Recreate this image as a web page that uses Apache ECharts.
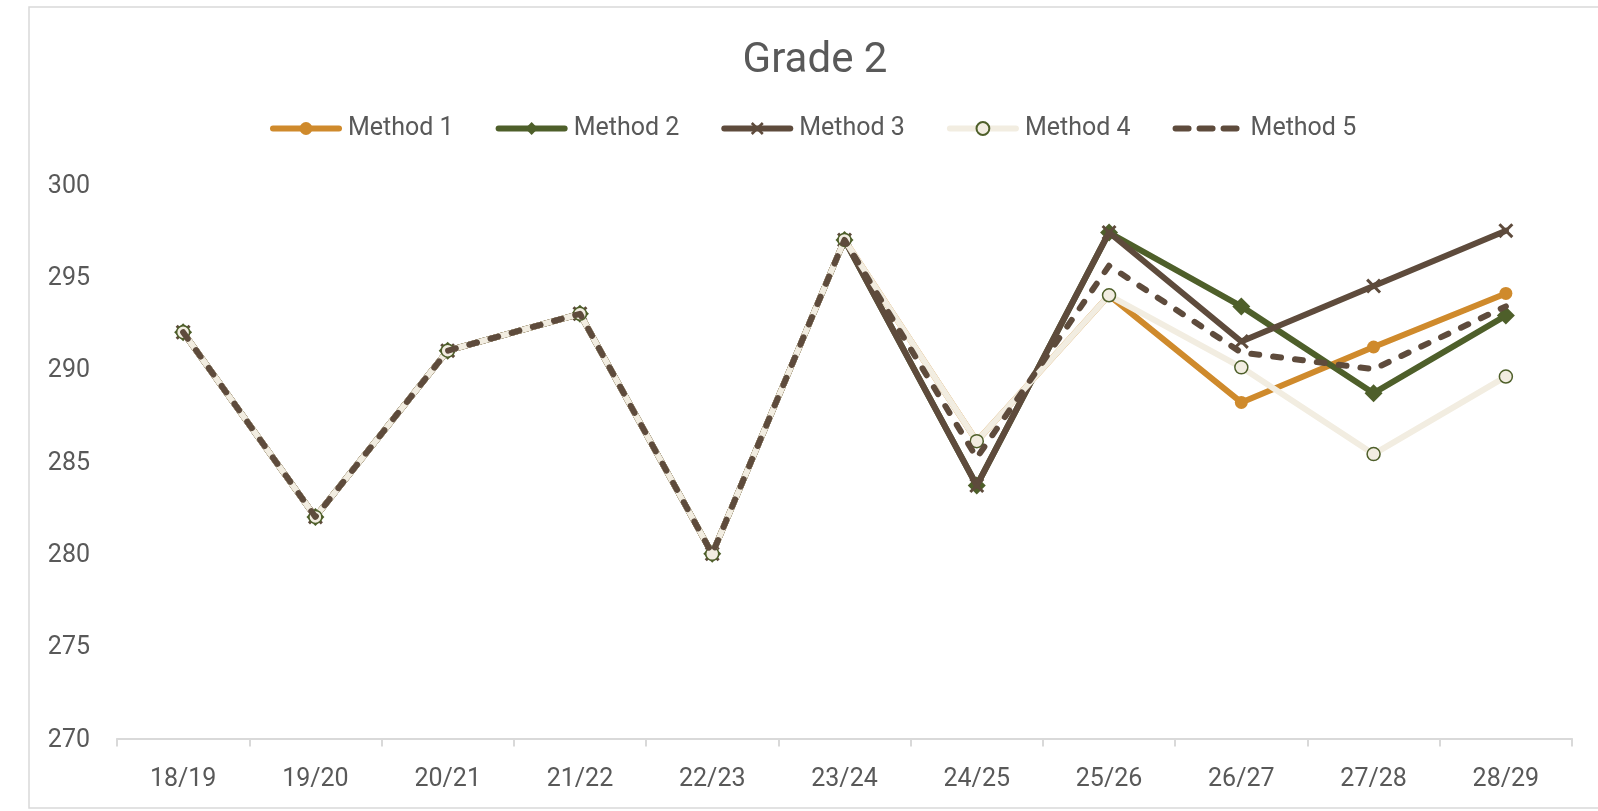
<!DOCTYPE html>
<html>
<head>
<meta charset="utf-8">
<script src="https://cdn.jsdelivr.net/npm/echarts@6/dist/echarts.min.js"></script>
<style>
html,body{margin:0;padding:0;background:#fff;}
#chart{width:1598px;height:811px;}
</style>
</head>
<body>
<div id="chart"></div>
<script>
const categories = ['18/19','19/20','20/21','21/22','22/23','23/24','24/25','25/26','26/27','27/28','28/29'];
const method1 = [292, 282, 291, 293, 280, 297, 286.1, 294.0, 288.2, 291.2, 294.1];
const method2 = [292, 282, 291, 293, 280, 297, 283.7, 297.4, 293.4, 288.7, 292.9];
const method3 = [292, 282, 291, 293, 280, 297, 283.7, 297.4, 291.5, 294.5, 297.5];
const method4 = [292, 282, 291, 293, 280, 297, 286.1, 294.0, 290.1, 285.4, 289.6];
const method5 = [292, 282, 291, 293, 280, 297, 285.2, 295.6, 290.9, 290.0, 293.4];
const seriesNames = ['Method 1','Method 2','Method 3','Method 4','Method 5'];
const yMin = 270, yMax = 300, yStep = 5;

const FONT = 'Roboto';
const TXT = '#595959';
const ORANGE = '#CF8A2C';
const GREEN = '#4E5F2A';
const BROWN = '#5E4B3C';
const BEIGE = '#F2EDE1';
const XPATH = 'path://M0,1.4 L1.4,0 L10,8.6 L8.6,10 Z M8.6,0 L10,1.4 L1.4,10 L0,8.6 Z';

const chart = echarts.init(document.getElementById('chart'), null, {renderer:'canvas'});
chart.setOption({
  animation: false,
  backgroundColor: '#fff',
  graphic: [{
    type: 'rect',
    shape: {x: 29, y: 7, width: 1620, height: 801},
    style: {fill: 'none', stroke: '#D9D9D9', lineWidth: 1.5},
    silent: true, z: 0
  }],
  title: {
    text: 'Grade 2',
    left: 815, top: 40, padding: 0,
    textAlign: 'center',
    textStyle: {fontFamily: FONT, fontSize: 42, fontWeight: 'normal', color: TXT}
  },
  legend: {
    left: 270, top: 116, padding: 0,
    itemWidth: 66, itemHeight: 16, itemGap: 42,
    textStyle: {fontFamily: FONT, fontSize: 25, color: TXT, padding: [0, 0, 0, 4]},
    lineStyle: {width: 6, cap: 'round'},
    data: [
      {name: seriesNames[0]},
      {name: seriesNames[1]},
      {name: seriesNames[2]},
      {name: seriesNames[3]},
      {name: seriesNames[4], itemStyle: {opacity: 0}, lineStyle: {width: 6, type: [13, 11], cap: 'round'}}
    ]
  },
  grid: {left: 117, right: 26, top: 184.5, bottom: 72.5},
  xAxis: {
    type: 'category',
    data: categories,
    boundaryGap: true,
    axisLine: {lineStyle: {color: '#D9D9D9', width: 2}},
    axisTick: {show: true, length: 8, lineStyle: {color: '#D9D9D9', width: 2}},
    axisLabel: {fontFamily: FONT, fontSize: 25, color: TXT, margin: 29}
  },
  yAxis: {
    type: 'value',
    min: yMin, max: yMax, interval: yStep,
    axisLine: {show: false},
    axisTick: {show: false},
    splitLine: {show: false},
    axisLabel: {fontFamily: FONT, fontSize: 25, color: TXT, margin: 27, verticalAlign: 'top', lineHeight: 4}
  },
  series: [
    {
      name: seriesNames[0], type: 'line', data: method1, z: 2,
      symbol: 'circle', symbolSize: 13, showAllSymbol: true,
      lineStyle: {color: ORANGE, width: 6, cap: 'round', join: 'round'},
      itemStyle: {color: ORANGE}
    },
    {
      name: seriesNames[1], type: 'line', data: method2, z: 3,
      symbol: 'diamond', symbolSize: 18, showAllSymbol: true,
      lineStyle: {color: GREEN, width: 6, cap: 'round', join: 'round'},
      itemStyle: {color: GREEN}
    },
    {
      name: seriesNames[2], type: 'line', data: method3, z: 4,
      symbol: XPATH, symbolSize: 15, showAllSymbol: true,
      lineStyle: {color: BROWN, width: 6, cap: 'round', join: 'round'},
      itemStyle: {color: BROWN}
    },
    {
      name: seriesNames[3], type: 'line', data: method4, z: 5,
      symbol: 'circle', symbolSize: 13, showAllSymbol: true,
      lineStyle: {color: BEIGE, width: 6, cap: 'round', join: 'round'},
      itemStyle: {color: BEIGE, borderColor: GREEN, borderWidth: 1.5}
    },
    {
      name: seriesNames[4], type: 'line', data: method5, z: 6,
      symbol: 'none',
      lineStyle: {color: BROWN, width: 6, type: [8, 14], cap: 'round', join: 'round'},
      itemStyle: {color: BROWN}
    }
  ]
});
</script>
</body>
</html>
